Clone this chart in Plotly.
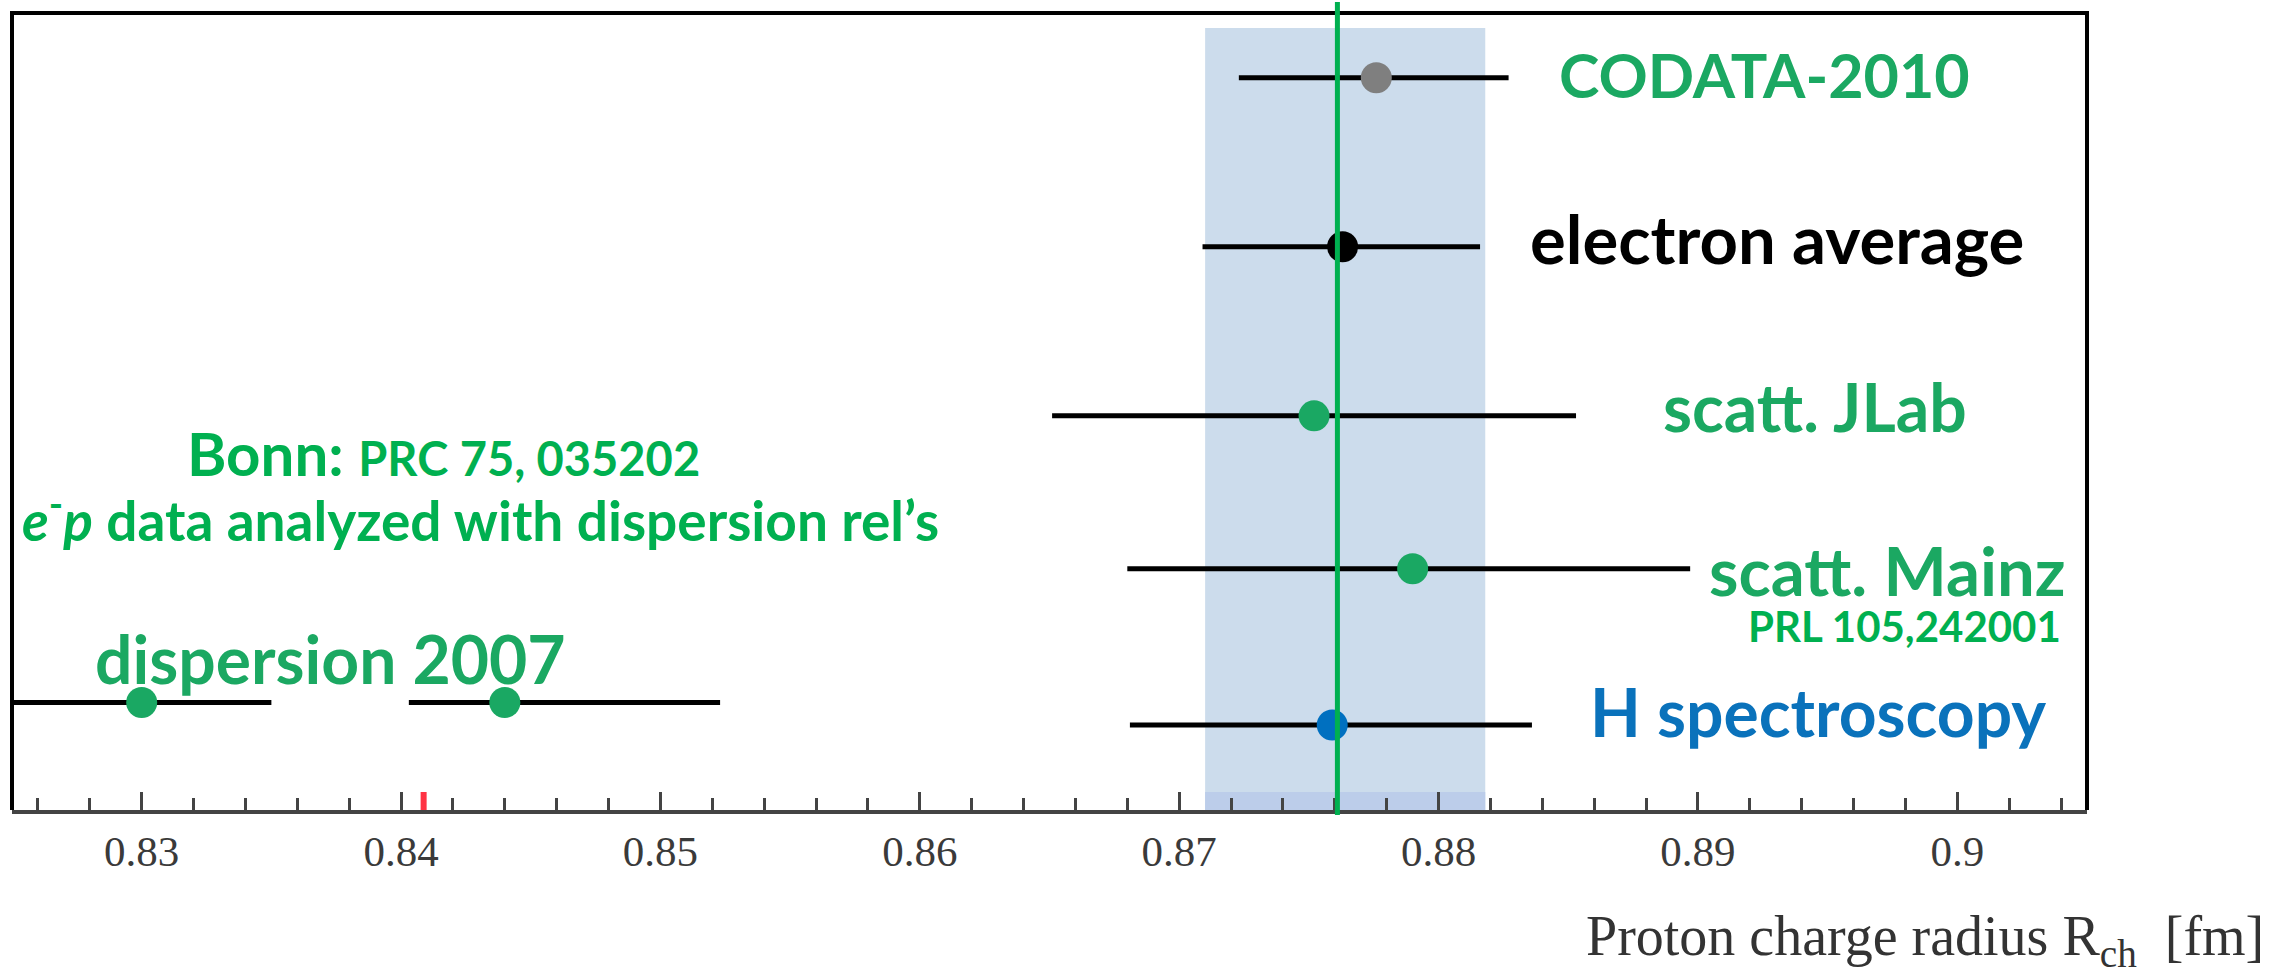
import plotly.graph_objects as go

# ---------------- data ----------------
labels = ["CODATA-2010", "electron average", "scatt. JLab", "scatt. Mainz",
          "H spectroscopy", "dispersion 2007 (a)", "dispersion 2007 (b)"]
radius = [0.8776, 0.8763, 0.8752, 0.8790, 0.8759, 0.8300, 0.8440]
err_plus = [0.0051, 0.0053, 0.0101, 0.0107, 0.0077, 0.0050, 0.0083]
err_minus = [0.0053, 0.0054, 0.0101, 0.0110, 0.0078, 0.0080, 0.0037]
row = [4.02, 2.97, 1.92, 0.97, 0.0, 0.14, 0.14]
marker_colors = ["#7f7f7f", "#000000", "#1aa863", "#1aa863",
                 "#0070c0", "#1aa863", "#1aa863"]

band_range = [0.8710, 0.8818]      # shaded electron band
green_line = 0.8761                # vertical reference line
muon_value = 0.84087               # red mark on the axis

tick_vals = [0.83, 0.84, 0.85, 0.86, 0.87, 0.88, 0.89, 0.90]
tick_text = ["0.83", "0.84", "0.85", "0.86", "0.87", "0.88", "0.89", "0.9"]
x_range = [0.825, 0.905]
y_range = [-0.528, 4.422]

# ---------------- layout geometry ----------------
W, H = 2292, 980
L, R, T, B = 12, 205, 13, 170
PW, PH = W - L - R, H - T - B


def px(x):
    return (x - L) / PW


def py(y):
    return (H - B - y) / PH


GREEN_TXT = "#1ba862"
GREEN_DARK = "#00b050"
BLUE_TXT = "#0a72bb"
FONT = "Lato"

fig = go.Figure()
for i in range(len(labels)):
    fig.add_trace(go.Scatter(
        x=[radius[i]], y=[row[i]], mode="markers", name=labels[i],
        marker=dict(size=31, color=marker_colors[i], line=dict(width=0)),
        error_x=dict(type="data", symmetric=False, array=[err_plus[i]],
                     arrayminus=[err_minus[i]], color="#000000",
                     thickness=5, width=0),
        showlegend=False, hoverinfo="x+name"))

shapes = [
    # electron band
    dict(type="rect", xref="x", yref="paper", x0=band_range[0], x1=band_range[1],
         y0=0, y1=py(28), fillcolor="#ccdcec", line=dict(width=0), layer="below"),
    dict(type="rect", xref="x", yref="paper", x0=band_range[0], x1=band_range[1],
         y0=0, y1=py(792), fillcolor="#bccdea", line=dict(width=0), layer="below"),
    # frame (left, top, right)
    dict(type="path", xref="paper", yref="paper",
         path="M 0,0 L 0,1 L 1,1 L 1,0", line=dict(color="#000000", width=4),
         layer="above"),
    # green line
    dict(type="line", xref="x", yref="paper", x0=green_line, x1=green_line,
         y0=py(815), y1=py(2), line=dict(color=GREEN_DARK, width=5), layer="above"),
    # muon red mark
    dict(type="line", xref="x", yref="paper", x0=muon_value, x1=muon_value,
         y0=0, y1=py(792), line=dict(color="#ff3344", width=6), layer="above"),
]

ann = []


def add_text(text, xc, yc, size, color, xanchor="center", family=FONT):
    ann.append(dict(text=text, x=px(xc), y=py(yc), xref="paper", yref="paper",
                    xanchor=xanchor, yanchor="middle", showarrow=False,
                    font=dict(family=family, size=size, color=color)))


add_text("<b>CODATA-2010</b>", 1764, 74, 61, GREEN_TXT)
add_text("<b>electron average</b>", 1777, 238, 67, "#000000")
add_text("<b>scatt. JLab</b>", 1815, 406, 66, GREEN_TXT)
add_text("<b>scatt. Mainz</b>", 1887, 570, 67, GREEN_TXT)
add_text("<b>PRL 105,242001</b>", 1904, 626, 42, GREEN_DARK)
add_text("<b>H spectroscopy</b>", 1818, 711, 66, BLUE_TXT)
add_text("<b>dispersion 2007</b>", 330, 658, 66, GREEN_TXT)
add_text("<b>Bonn: <span style='font-size:47px'>PRC 75, 035202</span></b>",
         443, 453, 60, GREEN_DARK)
add_text("<b><i>e</i><sup>-</sup><i>p</i> data analyzed with dispersion rel’s</b>",
         480, 516, 55, GREEN_DARK)
add_text("Proton charge radius R<sub>ch</sub>  [fm]", 2266, 940, 56, "#333333",
         xanchor="right", family="Liberation Serif")

fig.update_layout(
    width=W, height=H, margin=dict(l=L, r=R, t=T, b=B),
    paper_bgcolor="white", plot_bgcolor="white",
    shapes=shapes, annotations=ann,
    xaxis=dict(range=x_range, showgrid=False, zeroline=False,
               showline=True, linecolor="#444444", linewidth=4,
               ticks="inside", ticklen=18, tickwidth=3, tickcolor="#444444",
               tickvals=tick_vals, ticktext=tick_text,
               tickfont=dict(family="Liberation Serif", size=43, color="#3a3a3a"),
               minor=dict(ticks="inside", ticklen=12, tickwidth=3,
                          tickcolor="#444444", dtick=0.002, tick0=0.83,
                          showgrid=False)),
    yaxis=dict(range=y_range, visible=False, showgrid=False, zeroline=False),
)

fig.write_html("out.html")
